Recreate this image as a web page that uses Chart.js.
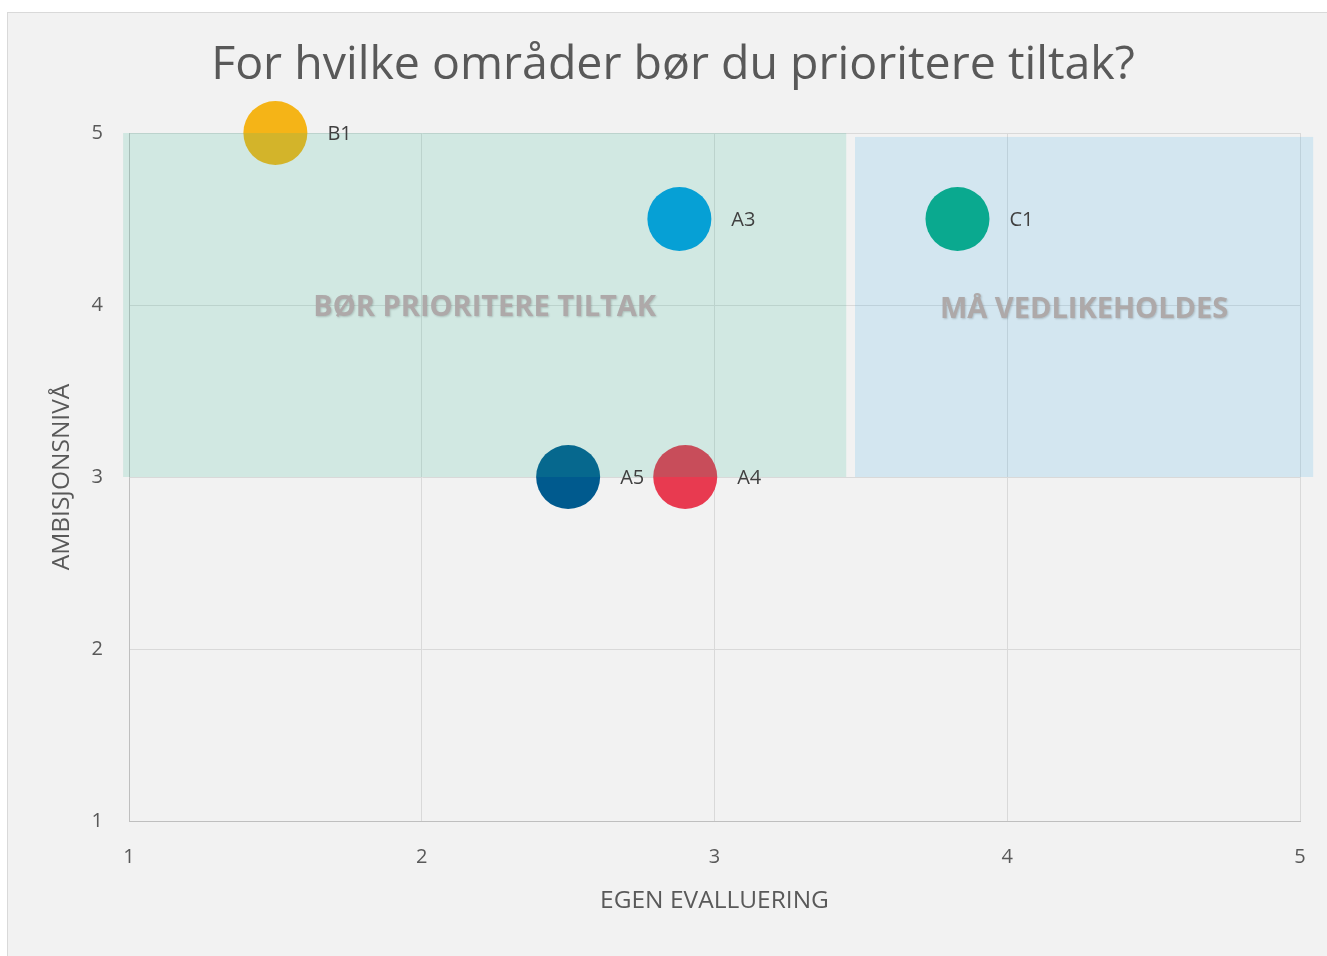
<!DOCTYPE html>
<html>
<head>
<meta charset="utf-8">
<script src="https://cdn.jsdelivr.net/npm/chart.js@4.4.1/dist/chart.umd.min.js"></script>
<style>
  html, body { margin: 0; padding: 0; background: #ffffff; }
  #wrap {
    position: absolute; left: 7px; top: 12px;
    width: 1319px; height: 943px;
    background: #f2f2f2; border: 1px solid #d9d9d9;
  }
  #chart { display: block; }
</style>
</head>
<body>
<div id="wrap"><canvas id="chart" width="1319" height="943"></canvas></div>
<script>
// Areas (bubble names) and their scores.
var areas = ["B1", "A3", "C1", "A5", "A4"];
var evaluation = [1.5, 2.88, 3.83, 2.5, 2.9];   // EGEN EVALLUERING (x)
var ambition = [5, 4.5, 4.5, 3, 3];             // AMBISJONSNIVÅ (y)

// Background zones.
var zoneNames = ["BØR PRIORITERE TILTAK", "MÅ VEDLIKEHOLDES"];
var zoneXFrom = [0.98, 3.48];
var zoneXTo = [3.45, 5.045];
var zoneYFrom = [3, 3];
var zoneYTo = [5, 4.977];

var ticks = [1, 2, 3, 4, 5];

var bubbleColors = ["#f5b417", "#009ce3", "#00a97d", "#005a8e", "#e83a50"];
var zoneColors = ["rgba(40,180,145,0.16)", "rgba(60,170,230,0.17)"];
var fontFamily = "'Open Sans', 'Noto Sans', sans-serif";

// Draw the zones over the bubbles (semi-transparent, like the original).
var zonePlugin = {
  id: "zones",
  afterDatasetsDraw: function (chart) {
    var ctx = chart.ctx;
    var xs = chart.scales.x;
    var ys = chart.scales.y;
    ctx.save();
    for (var i = 0; i < zoneNames.length; i++) {
      var x0 = xs.getPixelForValue(zoneXFrom[i]);
      var x1 = xs.getPixelForValue(zoneXTo[i]);
      var y0 = ys.getPixelForValue(zoneYTo[i]);
      var y1 = ys.getPixelForValue(zoneYFrom[i]);
      ctx.fillStyle = zoneColors[i];
      ctx.fillRect(x0, y0, x1 - x0, y1 - y0);
    }
    for (var j = 0; j < zoneNames.length; j++) {
      var cx = xs.getPixelForValue((zoneXFrom[j] + zoneXTo[j]) / 2);
      var cy = ys.getPixelForValue((zoneYFrom[j] + zoneYTo[j]) / 2);
      ctx.font = "bold 29px " + fontFamily;
      ctx.textAlign = "center";
      ctx.textBaseline = "middle";
      ctx.shadowColor = "rgba(0,0,0,0.18)";
      ctx.shadowBlur = 2;
      ctx.shadowOffsetX = 1;
      ctx.shadowOffsetY = 1;
      ctx.fillStyle = "#aea9a9";
      ctx.fillText(zoneNames[j], cx, cy + 3);
    }
    ctx.restore();

    // Bubble labels to the right of each bubble.
    var meta = chart.getDatasetMeta(0);
    ctx.save();
    ctx.font = "20px " + fontFamily;
    ctx.fillStyle = "#404040";
    ctx.textAlign = "left";
    ctx.textBaseline = "middle";
    meta.data.forEach(function (pt, k) {
      ctx.fillText(areas[k], pt.x + 52, pt.y + 1);
    });
    ctx.restore();
  },
};

var points = areas.map(function (name, i) {
  return { x: evaluation[i], y: ambition[i] };
});

var ctx = document.getElementById("chart").getContext("2d");
var chart = new Chart(ctx, {
  type: "bubble",
  data: {
    datasets: [
      {
        label: "Områder",
        data: points,
        backgroundColor: bubbleColors,
        borderWidth: 0,
        radius: 32,
        clip: false,
      },
    ],
  },
  options: {
    responsive: false,
    animation: false,
    layout: { autoPadding: false, padding: { left: 38, right: 27, top: 0, bottom: 0 } },
    plugins: {
      legend: { display: false },
      tooltip: { enabled: false },
      title: {
        display: true,
        text: "For hvilke områder bør du prioritere tiltak?",
        color: "#595959",
        font: { family: fontFamily, size: 46.5, weight: "normal" },
        padding: { top: 25, bottom: 39.2 },
      },
    },
    scales: {
      x: {
        type: "linear",
        min: ticks[0],
        max: ticks[ticks.length - 1],
        afterBuildTicks: function (scale) {
          scale.ticks = ticks.map(function (v) { return { value: v }; });
        },
        afterFit: function (scale) {
          scale.height = 135;
          scale.paddingLeft = 0;
          scale.paddingRight = 0;
        },
        grid: { color: "#d9d9d9", drawTicks: false },
        border: { color: "#bfbfbf" },
        ticks: { color: "#595959", padding: 24, font: { family: fontFamily, size: 20 } },
        title: {
          display: true,
          text: "EGEN EVALLUERING",
          color: "#595959",
          font: { family: fontFamily, size: 24.5 },
          padding: { top: 0, bottom: 40 },
        },
      },
      y: {
        type: "linear",
        min: ticks[0],
        max: ticks[ticks.length - 1],
        afterBuildTicks: function (scale) {
          scale.ticks = ticks.map(function (v) { return { value: v }; });
        },
        afterFit: function (scale) {
          scale.width = 83;
          scale.paddingTop = 0;
          scale.paddingBottom = 0;
        },
        grid: { color: "#d9d9d9", drawTicks: false },
        border: { color: "#bfbfbf" },
        ticks: { color: "#595959", padding: 26, font: { family: fontFamily, size: 20 } },
        title: {
          display: true,
          text: "AMBISJONSNIVÅ",
          color: "#595959",
          font: { family: fontFamily, size: 24.5 },
          padding: { top: 1.3, bottom: 0 },
        },
      },
    },
  },
  plugins: [zonePlugin],
});
</script>
</body>
</html>
